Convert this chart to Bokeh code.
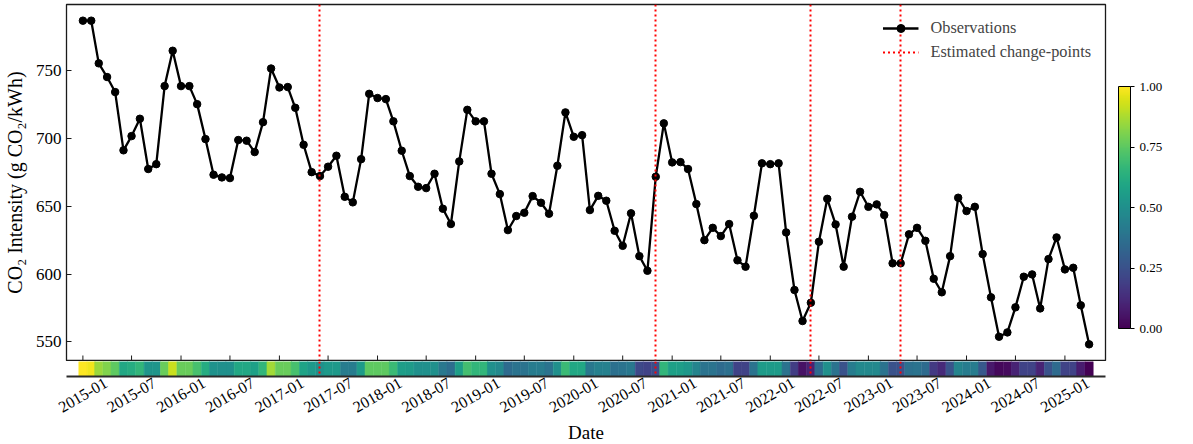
import math
import pandas as pd
from bokeh.plotting import figure
from bokeh.layouts import column
from bokeh.models import (Range1d, FixedTicker, ColumnDataSource,
                          LinearColorMapper, ColorBar, Label, PrintfTickFormatter)
from bokeh.palettes import Viridis256
from bokeh.transform import linear_cmap
from bokeh.embed import file_html
from bokeh.resources import INLINE

# ---------------- data ----------------
months = pd.date_range("2015-01-01", "2025-04-01", freq="MS")

intensity = [
    787.0, 787.0, 755.5, 745.4, 734.3, 691.3, 701.8, 714.6, 677.5, 681.1, 738.7, 764.8,   # 2015
    738.7, 738.7, 725.4, 699.6, 673.3, 671.3, 670.8, 698.9, 698.4, 690.0, 712.1, 751.7,   # 2016
    737.7, 738.0, 722.7, 695.4, 675.2, 672.3, 679.2, 687.3, 657.0, 652.9, 684.8, 733.0,   # 2017
    729.9, 729.1, 712.7, 691.0, 672.3, 664.4, 663.4, 674.0, 648.2, 636.9, 683.1, 721.2,   # 2018
    712.7, 712.7, 674.0, 659.0, 632.4, 642.8, 645.2, 657.5, 652.6, 644.5, 679.9, 719.3,   # 2019
    701.3, 702.5, 647.2, 657.7, 654.1, 631.9, 620.8, 644.8, 613.2, 602.4, 671.8, 711.2,   # 2020
    682.4, 682.6, 677.5, 651.6, 625.0, 634.1, 628.0, 636.9, 610.1, 605.4, 643.0, 681.7,   # 2021
    681.1, 681.7, 630.7, 588.2, 565.3, 578.8, 623.8, 655.5, 636.6, 605.4, 642.3, 660.7,   # 2022
    649.6, 651.4, 643.5, 607.9, 607.9, 629.3, 634.1, 624.5, 596.5, 586.5, 613.2, 656.3,   # 2023
    646.5, 649.6, 614.7, 582.8, 553.7, 556.9, 575.4, 598.0, 599.7, 574.6, 611.0, 627.0,   # 2024
    603.4, 604.6, 576.9, 548.1,                                                           # 2025
]

cdi = [
    1.00, 0.98, 0.85, 0.81, 0.75, 0.60, 0.62, 0.66, 0.52, 0.52, 0.77, 0.92,
    0.77, 0.77, 0.71, 0.62, 0.51, 0.50, 0.50, 0.60, 0.60, 0.57, 0.66, 0.86,
    0.77, 0.77, 0.71, 0.58, 0.54, 0.50, 0.54, 0.54, 0.42, 0.42, 0.55, 0.75,
    0.75, 0.75, 0.68, 0.56, 0.55, 0.50, 0.50, 0.50, 0.40, 0.36, 0.56, 0.70,
    0.66, 0.66, 0.50, 0.47, 0.35, 0.38, 0.38, 0.42, 0.42, 0.38, 0.50, 0.68,
    0.60, 0.60, 0.40, 0.44, 0.44, 0.37, 0.38, 0.40, 0.22, 0.20, 0.24, 0.66,
    0.57, 0.56, 0.53, 0.45, 0.38, 0.38, 0.35, 0.37, 0.20, 0.20, 0.38, 0.55,
    0.55, 0.55, 0.38, 0.18, 0.05, 0.10, 0.35, 0.50, 0.38, 0.25, 0.42, 0.47,
    0.47, 0.47, 0.38, 0.25, 0.25, 0.37, 0.38, 0.35, 0.17, 0.12, 0.26, 0.45,
    0.42, 0.42, 0.28, 0.07, 0.02, 0.03, 0.10, 0.20, 0.20, 0.10, 0.25, 0.35,
    0.20, 0.20, 0.08, 0.00,
]

change_points = pd.to_datetime(["2017-06-01", "2020-11-01", "2022-06-01", "2023-05-01"])
x_ticks = pd.date_range("2015-01-01", "2025-01-01", freq="6MS")
x_tick_labels = [t.strftime("%Y-%m") for t in x_ticks]
y_ticks = [550, 600, 650, 700, 750]
cbar_ticks = [0.0, 0.25, 0.5, 0.75, 1.0]

# ---------------- styling ----------------
FONT = "Liberation Serif"
SPINE = "#1a1a1a"

src = ColumnDataSource(dict(date=months, co2=intensity, cdi=cdi))
cp_src = ColumnDataSource(dict(x=change_points))

x_start = months[0] - pd.DateOffset(months=2)
x_end = months[-1] + pd.DateOffset(months=2)
x_range = Range1d(start=x_start, end=x_end)
lo, hi = min(intensity), max(intensity)
pad = 0.05 * (hi - lo)
y_range = Range1d(lo - pad, hi + pad)

LEFT, RIGHT = 66, 88
FW = 1039
STRIP_H = 15

p = figure(frame_width=FW, frame_height=356, x_axis_type="datetime",
           x_range=x_range, y_range=y_range, output_backend="svg",
           toolbar_location=None, min_border_left=LEFT, min_border_right=RIGHT,
           min_border_top=4, min_border_bottom=1)
p.grid.visible = False
p.outline_line_color = SPINE
p.outline_line_width = 1.3
p.background_fill_color = "white"
p.border_fill_color = "white"
p.xaxis.visible = False

# inward-pointing date ticks on the bottom spine of the main panel
tick_src = ColumnDataSource(dict(x=x_ticks, y=[y_range.start] * len(x_ticks)))
p.ray(x="x", y="y", source=tick_src, length=5, length_units="screen",
      angle=math.pi / 2, line_color=SPINE, line_width=1)

p.yaxis.ticker = FixedTicker(ticks=y_ticks)
p.yaxis.major_tick_in = 5
p.yaxis.major_tick_out = 0
p.yaxis.minor_tick_line_color = None
p.yaxis.axis_line_color = SPINE
p.yaxis.major_tick_line_color = SPINE
p.yaxis.major_label_text_font = FONT
p.yaxis.major_label_text_font_size = "17px"
p.yaxis.major_label_text_color = "black"
p.yaxis.major_label_standoff = 5
p.yaxis.axis_label = "CO₂ Intensity (g CO₂/kWh)"
p.yaxis.axis_label_text_font = FONT
p.yaxis.axis_label_text_font_size = "20px"
p.yaxis.axis_label_text_font_style = "normal"
p.yaxis.axis_label_text_color = "black"
p.yaxis.axis_label_standoff = 7

p.line("date", "co2", source=src, line_color="black", line_width=2.3, legend_label="Observations")
p.scatter("date", "co2", source=src, size=7.5, fill_color="black", line_color="black",
          legend_label="Observations")
p.vspan(x="x", source=cp_src, line_color="red", line_width=2, line_dash="2 3",
        legend_label="Estimated change-points")

lg = p.legend[0]
lg.location = "top_right"
lg.border_line_alpha = 0
lg.background_fill_alpha = 0
lg.label_text_font = FONT
lg.label_text_font_size = "16.3px"
lg.glyph_width = 36
lg.glyph_height = 20
lg.label_height = 20
lg.label_standoff = 12
lg.spacing = 4
lg.padding = 6
lg.margin = 8

mapper = LinearColorMapper(palette=Viridis256, low=0, high=1)
cb = ColorBar(color_mapper=mapper, ticker=FixedTicker(ticks=cbar_ticks),
              formatter=PrintfTickFormatter(format="%.2f"),
              width=12, height=242, location=(1118 - LEFT, 360 - 328),
              padding=0, margin=0, background_fill_alpha=0, border_line_color=None,
              bar_line_color="black", bar_line_width=1,
              major_tick_in=0, major_tick_out=4, major_tick_line_color="black",
              minor_tick_line_color=None, label_standoff=5,
              major_label_text_font=FONT, major_label_text_font_size="13px",
              major_label_text_color="black")
p.add_layout(cb, "center")
p.add_layout(Label(x=1181 - LEFT, y=360 - 204, x_units="screen", y_units="screen",
                   text="CDI (min–max normalized)", angle=math.pi / 2,
                   text_align="center", text_baseline="middle",
                   text_font=FONT, text_font_size="19px", text_color="black"))

# ---------------- CDI strip ----------------
s = figure(frame_width=FW, frame_height=STRIP_H, x_axis_type="datetime",
           x_range=x_range, y_range=Range1d(0, 1), output_backend="svg",
           toolbar_location=None, min_border_left=LEFT, min_border_right=RIGHT,
           min_border_top=0, min_border_bottom=0)
s.grid.visible = False
s.outline_line_color = None
s.yaxis.visible = False
s.background_fill_color = "white"
s.border_fill_color = "white"

month_ms = 30.44 * 24 * 3600 * 1000
cmap = linear_cmap("cdi", Viridis256, 0, 1)
s.rect(x="date", y=0.5, width=month_ms, height=1, source=src,
       fill_color=cmap, line_color=cmap, line_width=0.6)
s.vspan(x="x", source=cp_src, line_color="red", line_width=2, line_dash="2 3")

# Bokeh anchors rotated labels at their right end; matplotlib centres them on
# the tick.  Shift the (invisible) label anchors right by ~half the rotated
# label width so every label is centred under its date tick.
px_per_ms = FW / ((x_end - x_start).total_seconds() * 1000.0)
shift_ms = 23.0 / px_per_ms
label_pos = [t.value / 1e6 + shift_ms for t in x_ticks]
s.xaxis.ticker = FixedTicker(ticks=label_pos)
s.xaxis.major_label_overrides = {pos: txt for pos, txt in zip(label_pos, x_tick_labels)}
s.xaxis.major_tick_in = 0
s.xaxis.major_tick_out = 0
s.xaxis.major_tick_line_color = None
s.xaxis.minor_tick_line_color = None
s.xaxis.axis_line_color = "#2a2a2a"
s.xaxis.axis_line_width = 2.2
s.xaxis.major_label_orientation = math.pi / 6
s.xaxis.major_label_text_font = FONT
s.xaxis.major_label_text_font_size = "16px"
s.xaxis.major_label_text_color = "black"
s.xaxis.major_label_standoff = 5
s.xaxis.axis_label = "Date"
s.xaxis.axis_label_text_font = FONT
s.xaxis.axis_label_text_font_size = "19px"
s.xaxis.axis_label_text_font_style = "normal"
s.xaxis.axis_label_text_color = "black"
s.xaxis.axis_label_standoff = 1

layout = column(p, s, spacing=0)
open("out.html", "w").write(file_html(layout, INLINE))
